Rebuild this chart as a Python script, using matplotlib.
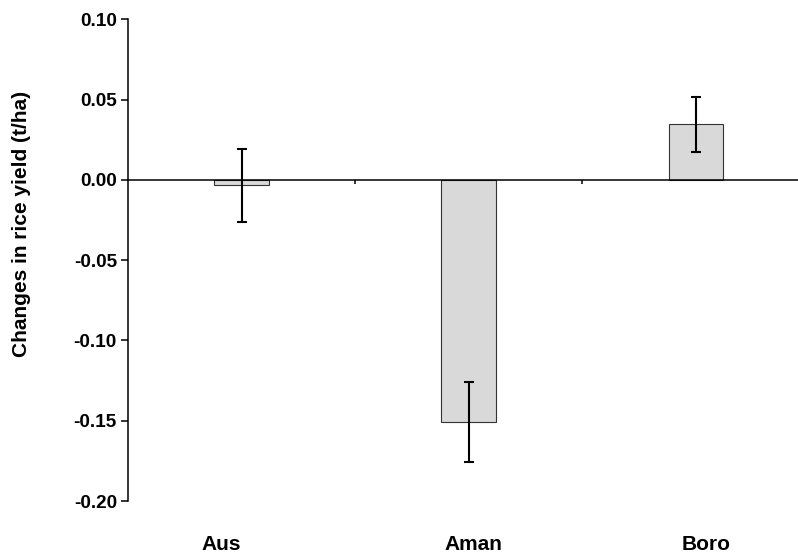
import matplotlib
matplotlib.use("Agg")
import matplotlib.pyplot as plt
import numpy as np

plt.rcParams['font.family'] = ['Liberation Sans', 'DejaVu Sans']

categories = ["Aus", "Aman", "Boro"]
values = [-0.0035, -0.1507, 0.0345]
errors = [0.0229, 0.0251, 0.0174]
yticks = [-0.20, -0.15, -0.10, -0.05, 0.00, 0.05, 0.10]
ylabel = "Changes in rice yield (t/ha)"

fig = plt.figure(figsize=(7.98, 5.53), dpi=100)
ax = fig.add_axes([128/798, 1-501/553, (809.5-128)/798, (501-19.3)/553])

x = np.arange(len(categories))
ax.bar(x, values, width=0.24, color="#d9d9d9", edgecolor="#333333", linewidth=0.8, zorder=2)
ax.errorbar(x, values, yerr=errors, fmt="none", ecolor="black", elinewidth=1.5,
            capsize=3.6, capthick=1.5, zorder=3)

ax.set_xlim(-0.5, 2.5)
ax.set_ylim(-0.20, 0.10)
ax.set_yticks(yticks)
ax.set_yticklabels([f"{t:.2f}" for t in yticks], fontsize=13.7, fontweight="bold")
ax.tick_params(axis="y", direction="out", length=5, width=1.1, pad=3)

ax.spines["top"].set_visible(False)
ax.spines["right"].set_visible(False)
ax.spines["left"].set_linewidth(1.1)
ax.spines["bottom"].set_position(("data", 0))
ax.spines["bottom"].set_linewidth(1.1)
ax.spines["bottom"].set_zorder(4)

ax.set_xticks([0.5, 1.5])
ax.set_xticklabels([])
ax.tick_params(axis="x", direction="out", length=3, width=1.1)

label_shift = [-0.088, 0.022, 0.044]
trans = matplotlib.transforms.blended_transform_factory(ax.transData, fig.transFigure)
for xi, c, s in zip(x, categories, label_shift):
    ax.text(xi + s, 1-544/553, c, transform=trans, ha="center", va="center",
            fontsize=15, fontweight="bold")

fig.text(21.5/798, 1-224/553, ylabel, rotation=90, ha="center", va="center",
         fontsize=15, fontweight="bold")

fig.savefig("out.png", dpi=100)
